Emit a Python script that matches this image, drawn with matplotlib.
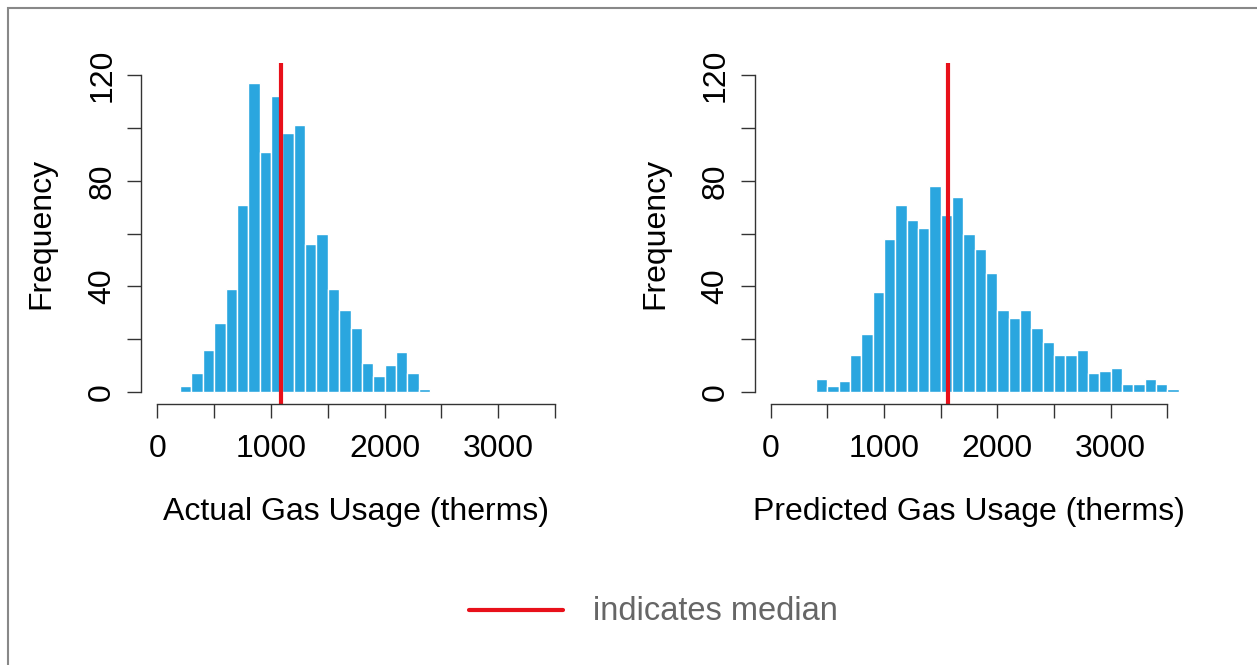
import numpy as np
import matplotlib
matplotlib.use("Agg")
import matplotlib.pyplot as plt
from matplotlib.patches import Rectangle
from matplotlib.lines import Line2D

plt.rcParams['font.family'] = ['Liberation Sans', 'DejaVu Sans']

# histogram counts, 100-therm bins
actual_start = 200
actual_counts = [2, 7, 16, 26, 39, 71, 117, 91, 112, 98, 101,
                 56, 60, 39, 31, 24, 11, 6, 10, 15, 7, 1]
actual_median = 1090

pred_start = 400
pred_counts = [5, 2, 4, 14, 22, 38, 58, 71, 65, 62, 78, 67, 74, 60, 54, 45,
               31, 28, 31, 24, 19, 14, 14, 16, 7, 8, 9, 3, 3, 5, 3, 1]
pred_median = 1565

bin_width = 100
xticks = np.arange(0, 3501, 500)
yticks = np.arange(0, 121, 20)
xlabels = ["Actual Gas Usage (therms)", "Predicted Gas Usage (therms)"]

bar_color = '#2aa6df'
line_color = '#e8101a'
fs = 23

W, H = 1257, 665
fig = plt.figure(figsize=(W / 100, H / 100), dpi=100)


def hist_panel(rect, start, counts, median, xlabel):
    ax = fig.add_axes(rect)
    edges = start + bin_width * np.arange(len(counts))
    ax.bar(edges, counts, width=bin_width, align='edge', color=bar_color,
           edgecolor='white', linewidth=1.0)
    ax.axvline(median, color=line_color, linewidth=3.0, solid_capstyle='butt')
    ax.set_xlim(-140, 3640)
    ax.set_ylim(-4.8, 124.8)
    for s in ['top', 'right']:
        ax.spines[s].set_visible(False)
    ax.spines['left'].set_bounds(0, 120)
    ax.spines['bottom'].set_bounds(0, 3500)
    for s in ['left', 'bottom']:
        ax.spines[s].set_color('#333333')
        ax.spines[s].set_linewidth(1.0)
    ax.set_xticks(xticks)
    ax.set_xticklabels([str(v) if v % 1000 == 0 else '' for v in xticks])
    ax.set_yticks(yticks)
    ax.set_yticklabels([str(v) if v % 40 == 0 else '' for v in yticks],
                       rotation=90, va='center')
    ax.tick_params(length=10.4, width=1.0, color='#333333', labelsize=fs)
    ax.tick_params(axis='x', pad=11)
    ax.tick_params(axis='y', pad=7)
    ax.set_xlabel(xlabel, fontsize=fs, labelpad=24)
    ax.set_ylabel("Frequency", fontsize=fs, labelpad=22)
    return ax


hist_panel([141.4 / W, 1 - 404.4 / H, 429.6 / W, 341.7 / H],
           actual_start, actual_counts, actual_median, xlabels[0])
hist_panel([754.8 / W, 1 - 404.4 / H, 428.4 / W, 341.7 / H],
           pred_start, pred_counts, pred_median, xlabels[1])

# key for the median line
fig.add_artist(Line2D([469 / W, 563 / W], [1 - 610 / H, 1 - 610 / H],
                      color=line_color, linewidth=3.0,
                      solid_capstyle='round'))
fig.text(593 / W, 1 - 612 / H, "indicates median", fontsize=fs + 0.5,
         color='#666666', va='center', ha='left')

# outer frame
fig.add_artist(Rectangle((8 / W, -0.05), 1.2, 1 - 8 / H + 0.05,
                         transform=fig.transFigure, fill=False,
                         edgecolor='#888888', linewidth=1.5))

fig.savefig("out.png", dpi=100)
